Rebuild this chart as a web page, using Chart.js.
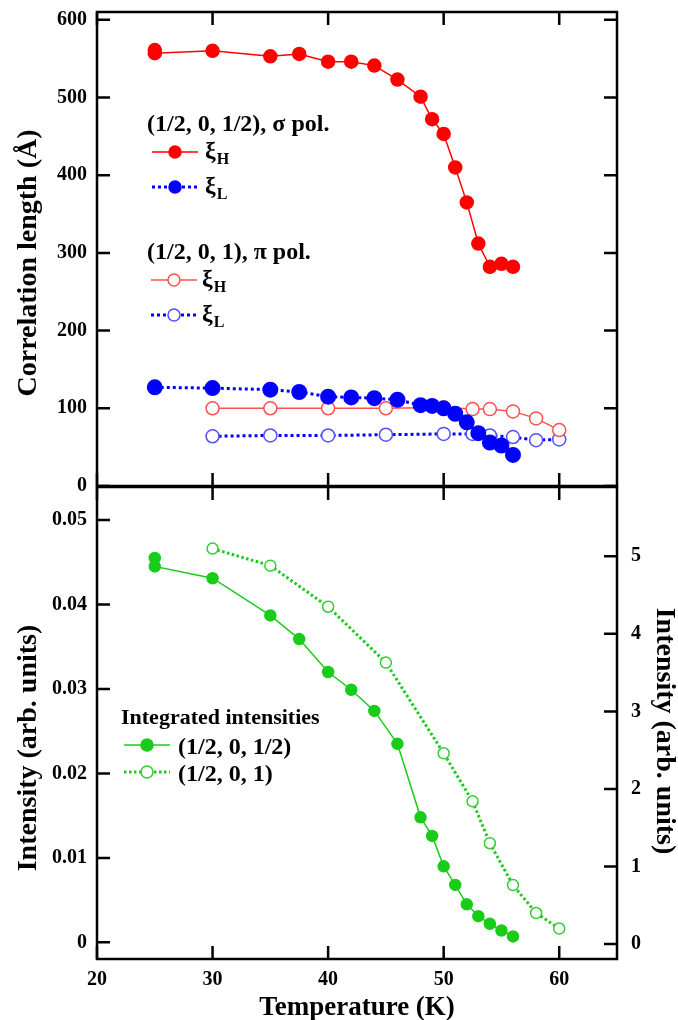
<!DOCTYPE html>
<html>
<head>
<meta charset="utf-8">
<script src="https://cdn.jsdelivr.net/npm/chart.js@4.4.1/dist/chart.umd.min.js"></script>
<style>
  html, body { margin: 0; padding: 0; background: #fff; }
  #wrap { position: relative; width: 678px; height: 1020px; }
  #top { position: absolute; left: 0; top: 0; }
  #bot { position: absolute; left: 0; top: 480px; }
</style>
</head>
<body>
<div id="wrap">
  <canvas id="top" width="678" height="500" style="width:678px;height:500px"></canvas>
  <canvas id="bot" width="678" height="540" style="width:678px;height:540px"></canvas>
</div>
<script>
// ---- data ----
const tSigma = [25, 25, 30, 35, 37.5, 40, 42, 44, 46, 48, 49, 50, 51, 52, 53, 54, 55, 56];
const xiHSigma = [561, 557, 560, 553, 556, 546, 546, 541, 523, 501, 472, 453, 410, 365, 312, 282, 286, 282];

const tSigmaL = [25, 30, 35, 37.5, 40, 42, 44, 46, 48, 49, 50, 51, 52, 53, 54, 55, 56];
const xiLSigma = [127, 126, 124, 121, 115, 114, 113, 111, 104, 103, 100, 93, 82, 68, 56, 52, 40];

const tPi = [30, 35, 40, 45, 50, 52.5, 54, 56, 58, 60];
const xiHPi = [100, 100, 100, 100, 101, 99, 99, 96, 87, 72];
const xiLPi = [64, 65, 65, 66, 67, 67, 65, 63, 59, 60];

const intHalf = [0.0455, 0.0445, 0.0431, 0.0387, 0.0359, 0.0320, 0.0299, 0.0274, 0.0235, 0.0148, 0.0126, 0.0090, 0.0068, 0.0045, 0.0031, 0.0022, 0.0014, 0.0007];
const intOne = [5.10, 4.88, 4.35, 3.63, 2.46, 1.84, 1.30, 0.76, 0.40, 0.20];

const xTicks = [20, 30, 40, 50, 60];
const corrTicks = [0, 100, 200, 300, 400, 500, 600];
const intLTicks = [0, 0.01, 0.02, 0.03, 0.04, 0.05];
const intLLabels = ['0', '0.01', '0.02', '0.03', '0.04', '0.05'];
const intRTicks = [0, 1, 2, 3, 4, 5];

const SERIF = '"Liberation Serif", "Times New Roman", serif';
const RED = '#ff0000', RED_O = '#ff5050', BLUE = '#0000ff', BLUE_O = '#5050ff', GREEN = '#19cc19', GREEN_O = '#33cc33';

const pts = (xs, ys) => xs.map((x, i) => ({ x: x, y: ys[i] }));
const setTicks = vals => s => { s.ticks = vals.map(v => ({ value: v })); };
// fixed axis box sizes, no extra label overflow padding
const fixW = w => s => { s.width = w; s.paddingTop = 0; s.paddingBottom = 0; };
const fixH = h => s => { s.height = h; s.paddingLeft = 0; s.paddingRight = 0; };

// frame + inward ticks
const frame = {
  id: 'frame',
  afterDraw(chart, args, o) {
    const { ctx, chartArea: a, scales } = chart;
    const L = 13;
    ctx.save();
    ctx.strokeStyle = '#000';
    ctx.lineWidth = 2.5;
    ctx.strokeRect(a.left, a.top, a.right - a.left, a.bottom - a.top);
    ctx.beginPath();
    scales.x.ticks.forEach(t => {
      const p = scales.x.getPixelForValue(t.value);
      ctx.moveTo(p, a.top); ctx.lineTo(p, a.top + L);
      ctx.moveTo(p, a.bottom); ctx.lineTo(p, a.bottom - L);
    });
    scales[o.left].ticks.forEach(t => {
      const p = scales[o.left].getPixelForValue(t.value);
      ctx.moveTo(a.left, p); ctx.lineTo(a.left + L, p);
    });
    scales[o.right].ticks.forEach(t => {
      const p = scales[o.right].getPixelForValue(t.value);
      ctx.moveTo(a.right, p); ctx.lineTo(a.right - L, p);
    });
    ctx.stroke();
    ctx.restore();
  }
};

// text: titles and legends
function sample(ctx, x, y, color, dash, width, fill, stroke) {
  ctx.save();
  ctx.strokeStyle = color;
  ctx.lineWidth = width;
  ctx.setLineDash(dash);
  ctx.beginPath(); ctx.moveTo(x - 23, y); ctx.lineTo(x + 23, y); ctx.stroke();
  ctx.setLineDash([]);
  ctx.beginPath(); ctx.arc(x, y, 6, 0, Math.PI * 2);
  ctx.fillStyle = fill; ctx.fill();
  ctx.lineWidth = 1.5; ctx.strokeStyle = stroke; ctx.stroke();
  ctx.restore();
}
function xi(ctx, x, y, sub) {
  ctx.font = 'bold 24px ' + SERIF;
  ctx.fillText('\u03BE', x, y);
  const w = ctx.measureText('\u03BE').width;
  ctx.font = 'bold 16px ' + SERIF;
  ctx.fillText(sub, x + w + 1, y + 6);
}
function vtext(ctx, txt, x, y, rot) {
  ctx.save();
  ctx.translate(x, y); ctx.rotate(rot);
  ctx.textAlign = 'center'; ctx.textBaseline = 'middle';
  ctx.fillText(txt, 0, 0);
  ctx.restore();
}

const topText = {
  id: 'topText',
  afterDraw(chart) {
    const ctx = chart.ctx;
    ctx.save();
    ctx.fillStyle = '#000';
    ctx.textBaseline = 'alphabetic';
    ctx.font = 'bold 28px ' + SERIF;
    vtext(ctx, 'Correlation length (\u00C5)', 29, 263, -Math.PI / 2);
    ctx.font = 'bold 24px ' + SERIF;
    ctx.fillText('(1/2, 0, 1/2), \u03C3 pol.', 147, 131);
    ctx.fillText('(1/2, 0, 1), \u03C0 pol.', 147, 259);
    sample(ctx, 175, 152, RED, [], 1.5, RED, RED);
    sample(ctx, 175, 187, BLUE, [3, 3], 3, BLUE, BLUE);
    sample(ctx, 174, 280, RED_O, [], 1.5, '#fff', RED_O);
    sample(ctx, 174, 315, BLUE, [3, 3], 3, '#fff', BLUE_O);
    xi(ctx, 205, 158, 'H');
    xi(ctx, 205, 193, 'L');
    xi(ctx, 202, 286, 'H');
    xi(ctx, 202, 321, 'L');
    ctx.restore();
  }
};

const botText = {
  id: 'botText',
  afterDraw(chart) {
    const ctx = chart.ctx;
    const oy = 480;
    ctx.save();
    ctx.fillStyle = '#000';
    ctx.font = 'bold 28px ' + SERIF;
    vtext(ctx, 'Intensity (arb. units)', 29, 748 - oy, -Math.PI / 2);
    vtext(ctx, 'Intensity (arb. units)', 664, 731 - oy, Math.PI / 2);
    ctx.font = 'bold 27px ' + SERIF;
    ctx.textAlign = 'center';
    ctx.fillText('Temperature (K)', 357, 1015 - oy);
    ctx.textAlign = 'left';
    ctx.font = 'bold 22px ' + SERIF;
    ctx.fillText('Integrated intensities', 121, 724 - oy);
    ctx.font = 'bold 24px ' + SERIF;
    ctx.fillText('(1/2, 0, 1/2)', 178, 754 - oy);
    ctx.fillText('(1/2, 0, 1)', 178, 781 - oy);
    sample(ctx, 147, 745 - oy, GREEN, [], 1.5, GREEN, GREEN);
    sample(ctx, 147, 772 - oy, GREEN, [2.5, 2.5], 3, '#fff', GREEN_O);
    ctx.restore();
  }
};

const tickFont = { family: SERIF, size: 20, weight: 'bold' };

const xScale = (showLabels, h) => ({
  type: 'linear', position: 'bottom', min: 20, max: 65,
  afterBuildTicks: setTicks(xTicks),
  afterFit: fixH(h),
  grid: { display: false, drawTicks: false },
  border: { display: false },
  ticks: { display: showLabels, color: '#000', font: tickFont, padding: 9, maxRotation: 0 }
});

new Chart(document.getElementById('top'), {
  type: 'line',
  data: {
    datasets: [
      { data: pts(tSigma, xiHSigma), borderColor: RED, borderWidth: 1.5, pointRadius: 6.5,
        pointBackgroundColor: RED, pointBorderColor: RED, yAxisID: 'y' },
      { data: pts(tSigmaL, xiLSigma), borderColor: BLUE, borderWidth: 3, borderDash: [3, 3], pointRadius: 6.5,
        pointBackgroundColor: BLUE, pointBorderColor: BLUE, yAxisID: 'y' },
      { data: pts(tPi, xiHPi), borderColor: RED_O, borderWidth: 1.5, pointRadius: 6.5, pointBorderWidth: 1.5,
        pointBackgroundColor: '#fff', pointBorderColor: RED_O, yAxisID: 'y' },
      { data: pts(tPi, xiLPi), borderColor: BLUE, borderWidth: 3, borderDash: [3, 3], pointRadius: 6.5, pointBorderWidth: 1.5,
        pointBackgroundColor: '#fff', pointBorderColor: BLUE_O, yAxisID: 'y' }
    ]
  },
  options: {
    responsive: false, animation: false, events: [],
    layout: { padding: { top: 12 } },
    plugins: { legend: { display: false }, tooltip: { enabled: false }, frame: { left: 'y', right: 'y' } },
    scales: {
      x: xScale(false, 14),
      y: {
        type: 'linear', position: 'left', min: 0, max: 610,
        afterBuildTicks: setTicks(corrTicks),
        afterFit: fixW(97),
        grid: { display: false, drawTicks: false }, border: { display: false },
        ticks: { color: '#000', font: tickFont, padding: 10 }
      },
      yR: {
        type: 'linear', position: 'right', min: 0, max: 610,
        afterFit: fixW(61),
        grid: { display: false, drawTicks: false }, border: { display: false },
        ticks: { display: false }
      }
    }
  },
  plugins: [frame, topText]
});

new Chart(document.getElementById('bot'), {
  type: 'line',
  data: {
    datasets: [
      { data: pts(tSigma, intHalf), borderColor: GREEN, borderWidth: 1.5, pointRadius: 5.5,
        pointBackgroundColor: GREEN, pointBorderColor: GREEN, yAxisID: 'y' },
      { data: pts(tPi, intOne), borderColor: GREEN, borderWidth: 3, borderDash: [2.5, 2.5], pointRadius: 5.5, pointBorderWidth: 1.5,
        pointBackgroundColor: '#fff', pointBorderColor: GREEN_O, yAxisID: 'yR' }
    ]
  },
  options: {
    responsive: false, animation: false, events: [],
    layout: { padding: { top: 6 } },
    plugins: { legend: { display: false }, tooltip: { enabled: false }, frame: { left: 'y', right: 'yR' } },
    scales: {
      x: xScale(true, 61),
      y: {
        type: 'linear', position: 'left', min: -0.00197, max: 0.0539,
        afterBuildTicks: setTicks(intLTicks),
        afterFit: fixW(97),
        grid: { display: false, drawTicks: false }, border: { display: false },
        ticks: { color: '#000', font: tickFont, padding: 10, callback: (v, i) => intLLabels[i] }
      },
      yR: {
        type: 'linear', position: 'right', min: -0.193, max: 5.894,
        afterBuildTicks: setTicks(intRTicks),
        afterFit: fixW(61),
        grid: { display: false, drawTicks: false }, border: { display: false },
        ticks: { color: '#000', font: tickFont, padding: 14 }
      }
    }
  },
  plugins: [frame, botText]
});
</script>
</body>
</html>
